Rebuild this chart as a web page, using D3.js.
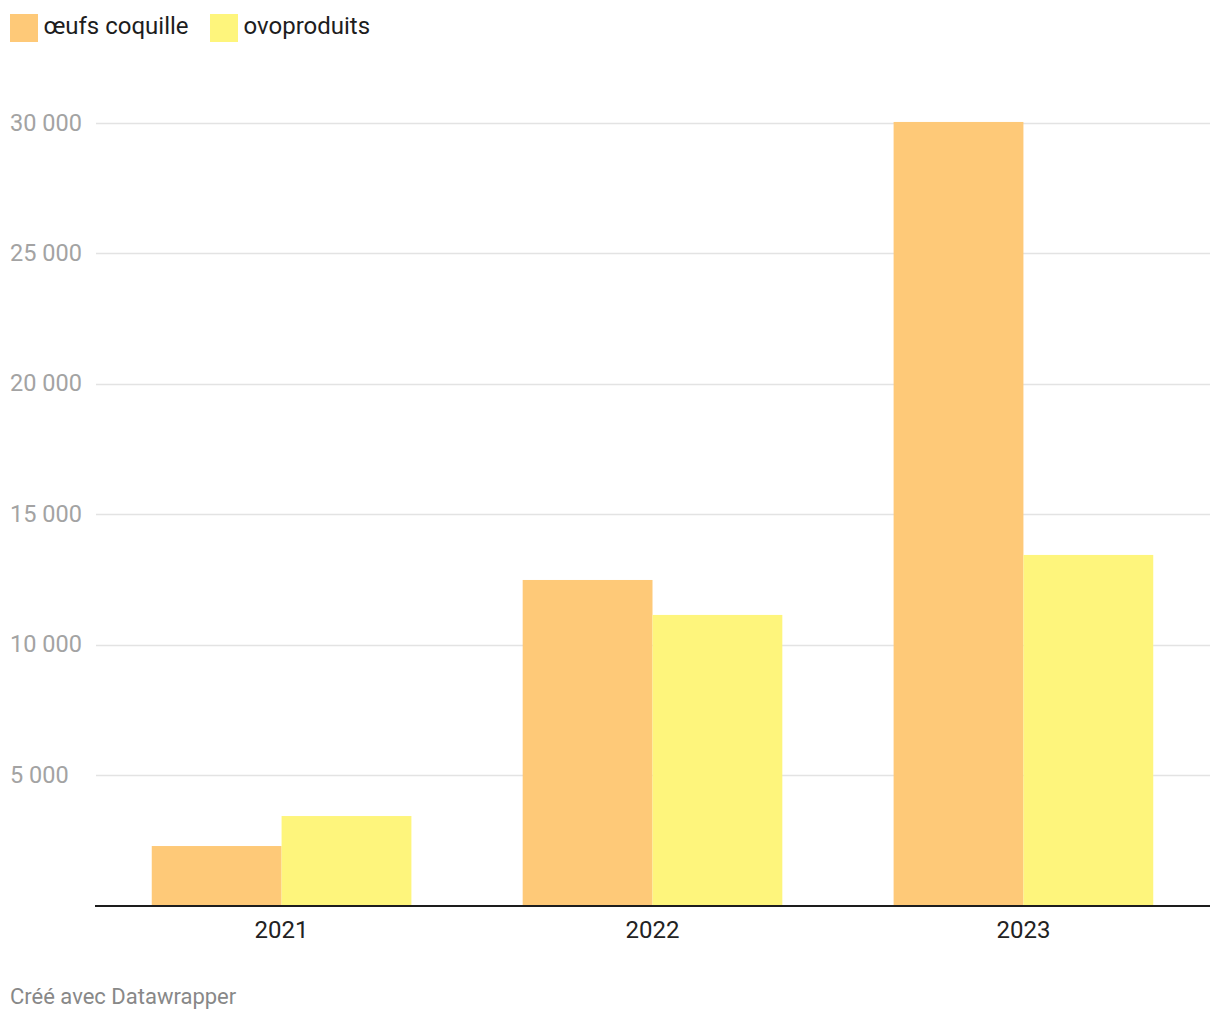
<!DOCTYPE html>
<html>
<head>
<meta charset="utf-8">
<script src="https://cdn.jsdelivr.net/npm/d3@7"></script>
<style>
  body { margin: 0; background: #fff; font-family: Roboto, "Noto Sans", sans-serif; }
</style>
</head>
<body>
<div id="chart"></div>
<script>
const years = ['2021', '2022', '2023'];
const seriesNames = ['œufs coquille', 'ovoproduits'];
const oeufsCoquille = [2280, 12480, 30040];
const ovoproduits = [3430, 11140, 13440];
const yTicks = [5000, 10000, 15000, 20000, 25000, 30000];
const colors = ['#fec978', '#fef57c'];

const width = 1220;
const height = 1020;
const plotLeft = 95, plotRight = 1210, plotTop = 123, plotBottom = 905.5;

const svg = d3.select('#chart')
              .append('svg')
              .attr('width', width)
              .attr('height', height);

const x = d3.scaleBand()
            .domain(years)
            .range([plotLeft, plotRight])
            .paddingInner(0.3)
            .paddingOuter(0.153);

const xSub = d3.scaleBand()
               .domain(seriesNames)
               .range([0, x.bandwidth()]);

const y = d3.scaleLinear()
            .domain([0, 30000])
            .range([plotBottom, plotTop]);

const fmt = (v) => d3.format(',')(v).replace(/,/g, ' ');

// grid
svg.append('g')
   .selectAll('line')
   .data(yTicks)
   .enter()
   .append('line')
   .attr('x1', plotLeft + 1)
   .attr('x2', plotRight)
   .attr('y1', (d) => Math.round(y(d)) + 0.5)
   .attr('y2', (d) => Math.round(y(d)) + 0.5)
   .attr('stroke', '#e3e3e3')
   .attr('stroke-width', 1.5);

svg.append('g')
   .selectAll('text')
   .data(yTicks)
   .enter()
   .append('text')
   .attr('x', 10)
   .attr('y', (d) => y(d) + 7.5)
   .style('font-size', '23.5px')
   .style('fill', '#a3a3a3')
   .text((d) => fmt(d));

// bars
const rows = years.map((yr, i) => ({ year: yr, values: [oeufsCoquille[i], ovoproduits[i]] }));

const group = svg.append('g')
                 .selectAll('g')
                 .data(rows)
                 .enter()
                 .append('g')
                 .attr('transform', (d) => 'translate(' + x(d.year) + ',0)');

group.selectAll('rect')
     .data((d) => d.values.map((v, j) => ({ name: seriesNames[j], value: v, color: colors[j] })))
     .enter()
     .append('rect')
     .attr('x', (d) => xSub(d.name))
     .attr('width', xSub.bandwidth())
     .attr('y', (d) => y(d.value))
     .attr('height', (d) => plotBottom - y(d.value))
     .attr('fill', (d) => d.color);

// baseline
svg.append('line')
   .attr('x1', plotLeft)
   .attr('x2', plotRight)
   .attr('y1', plotBottom + 0.5)
   .attr('y2', plotBottom + 0.5)
   .attr('stroke', '#1d1d1d')
   .attr('stroke-width', 2);

const xAxis = d3.axisBottom(x).tickSize(0).tickPadding(0);
const xg = svg.append('g')
              .attr('transform', 'translate(0,' + plotBottom + ')')
              .call(xAxis);
xg.select('.domain').remove();
xg.selectAll('text')
  .attr('dy', null)
  .attr('y', 32.5)
  .style('font-family', 'Roboto, sans-serif')
  .style('font-size', '24px')
  .style('fill', '#222');

// legend
const legend = svg.append('g')
                  .selectAll('g')
                  .data(seriesNames)
                  .enter()
                  .append('g')
                  .attr('transform', (d, i) => 'translate(' + (i === 0 ? 10 : 210) + ',14)');

legend.append('rect')
      .attr('width', 28)
      .attr('height', 28)
      .attr('fill', (d, i) => colors[i]);

legend.append('text')
      .attr('x', 33.5)
      .attr('y', 19.5)
      .style('font-size', '24px')
      .style('fill', '#1d1d1d')
      .text((d) => d);

// footer
svg.append('text')
   .attr('x', 10)
   .attr('y', 1004)
   .style('font-size', '22px')
   .style('fill', '#888')
   .text('Créé avec Datawrapper');
</script>
</body>
</html>
